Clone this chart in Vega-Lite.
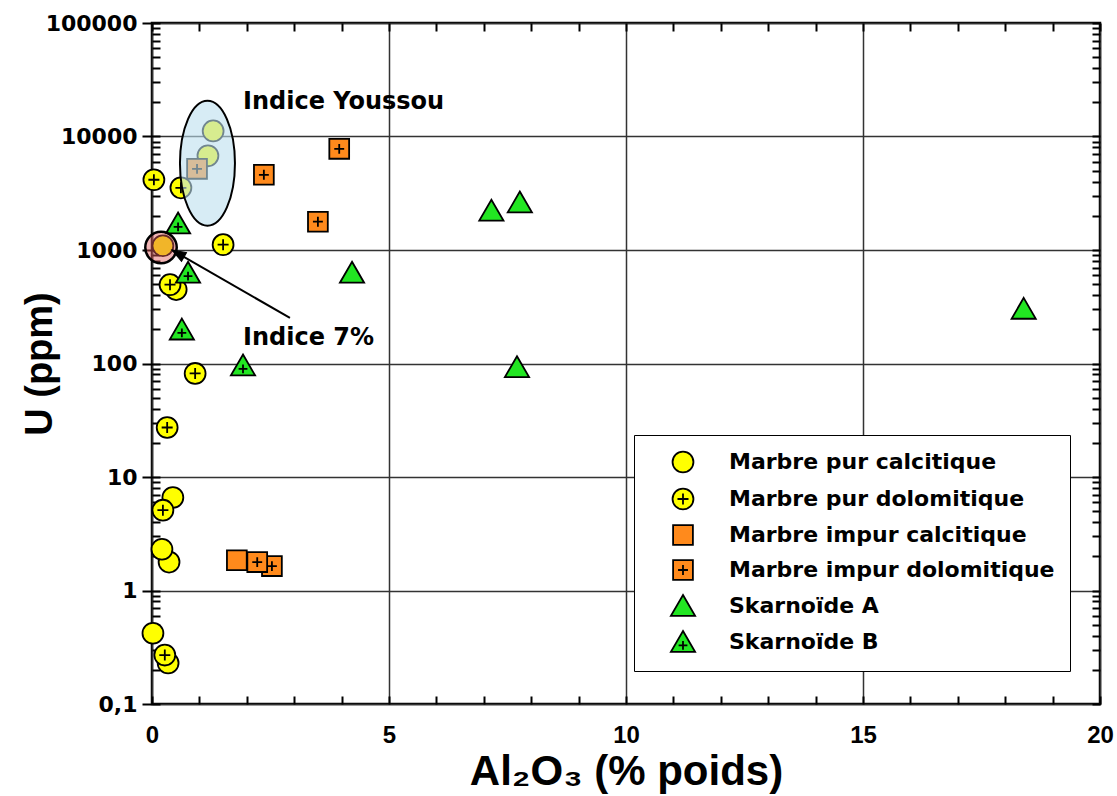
{
  "$schema": "https://vega.github.io/schema/vega-lite/v6.json",
  "width": 948,
  "height": 681,
  "autosize": {"type": "none"},
  "padding": {"left": 152, "top": 23, "right": 17, "bottom": 92},
  "background": "white",
  "config": {
    "view": {"stroke": "black", "strokeWidth": 2.5},
    "axis": {"domain": false, "ticks": true, "tickOpacity": 1, "tickColor": "black", "tickWidth": 2, "labelColor": "black", "titleColor": "black"}
  },
  "datasets": {
    "pts": [
      {"Al2O3": 1.29, "U": 11200, "type": "Marbre pur calcitique"},
      {"Al2O3": 1.18, "U": 6760, "type": "Marbre pur calcitique"},
      {"Al2O3": 0.23, "U": 1090, "type": "Marbre pur calcitique"},
      {"Al2O3": 0.51, "U": 448, "type": "Marbre pur calcitique"},
      {"Al2O3": 0.44, "U": 6.6, "type": "Marbre pur calcitique"},
      {"Al2O3": 0.36, "U": 1.78, "type": "Marbre pur calcitique"},
      {"Al2O3": 0.21, "U": 2.31, "type": "Marbre pur calcitique"},
      {"Al2O3": 0.02, "U": 0.42, "type": "Marbre pur calcitique"},
      {"Al2O3": 0.34, "U": 0.23, "type": "Marbre pur calcitique"},
      {"Al2O3": 0.04, "U": 4160, "type": "Marbre pur dolomitique"},
      {"Al2O3": 0.61, "U": 3530, "type": "Marbre pur dolomitique"},
      {"Al2O3": 1.5, "U": 1115, "type": "Marbre pur dolomitique"},
      {"Al2O3": 0.38, "U": 495, "type": "Marbre pur dolomitique"},
      {"Al2O3": 0.91, "U": 81.7, "type": "Marbre pur dolomitique"},
      {"Al2O3": 0.32, "U": 27.3, "type": "Marbre pur dolomitique"},
      {"Al2O3": 0.23, "U": 5.1, "type": "Marbre pur dolomitique"},
      {"Al2O3": 0.27, "U": 0.27, "type": "Marbre pur dolomitique"},
      {"Al2O3": 1.79, "U": 1.85, "type": "Marbre impur calcitique"},
      {"Al2O3": 0.95, "U": 5190, "type": "Marbre impur dolomitique"},
      {"Al2O3": 2.36, "U": 4600, "type": "Marbre impur dolomitique"},
      {"Al2O3": 3.95, "U": 7780, "type": "Marbre impur dolomitique"},
      {"Al2O3": 3.5, "U": 1775, "type": "Marbre impur dolomitique"},
      {"Al2O3": 2.53, "U": 1.64, "type": "Marbre impur dolomitique"},
      {"Al2O3": 2.22, "U": 1.78, "type": "Marbre impur dolomitique"},
      {"Al2O3": 7.16, "U": 2220, "type": "Skarnoïde A"},
      {"Al2O3": 7.76, "U": 2620, "type": "Skarnoïde A"},
      {"Al2O3": 18.39, "U": 303, "type": "Skarnoïde A"},
      {"Al2O3": 7.7, "U": 92.7, "type": "Skarnoïde A"},
      {"Al2O3": 4.22, "U": 630, "type": "Skarnoïde A"},
      {"Al2O3": 0.55, "U": 1710, "type": "Skarnoïde B"},
      {"Al2O3": 0.76, "U": 630, "type": "Skarnoïde B"},
      {"Al2O3": 0.63, "U": 199, "type": "Skarnoïde B"},
      {"Al2O3": 1.92, "U": 96, "type": "Skarnoïde B"}
    ],
    "ellipse": [{"Al2O3": 1.17, "U": 5810}],
    "circle7": [{"Al2O3": 0.19, "U": 1052}],
    "arrow": [{"Al2O3": 2.91, "U": 252, "Al2O3_end": 0.42, "U_end": 1000}],
    "labels": [
      {"Al2O3": 1.92, "U": 20100, "label": "Indice Youssou"},
      {"Al2O3": 1.92, "U": 168, "label": "Indice 7%"}
    ]
  },
  "layer": [
    {
      "data": {"name": "pts"},
      "mark": {"type": "point", "filled": true, "strokeWidth": 1.8, "size": 484, "opacity": 1, "fillOpacity": 1, "strokeOpacity": 1},
      "encoding": {
        "x": {
          "field": "Al2O3", "type": "quantitative",
          "scale": {"domain": [0, 20], "nice": false, "zero": false},
          "axis": {
            "orient": "bottom",
            "offset": -8,
            "values": [0,1,2,3,4,5,6,7,8,9,10,11,12,13,14,15,16,17,18,19,20],
            "labelExpr": "datum.value % 5 == 0 ? format(datum.value, 'd') : ''",
            "labelFont": "Liberation Sans", "labelFontWeight": "bold", "labelFontSize": 24,
            "labelPadding": 19, "labelOverlap": false, "labelFlush": false,
            "tickSize": 8,
            "grid": true,
            "gridOpacity": {"condition": {"test": "datum.value % 5 == 0", "value": 1}, "value": 0},
            "gridColor": "#333333", "gridWidth": 1.5,
            "title": "Al₂O₃ (% poids)",
            "titleFont": "Liberation Sans", "titleFontWeight": "bold", "titleFontSize": 42, "titlePadding": 4
          }
        },
        "y": {
          "field": "U", "type": "quantitative",
          "scale": {"type": "log", "domain": [0.1, 100000], "nice": false},
          "axis": {
            "orient": "left",
            "offset": -8,
            "values": [0.1,0.2,0.3,0.4,0.5,0.6,0.7,0.8,0.9,1,2,3,4,5,6,7,8,9,10,20,30,40,50,60,70,80,90,100,200,300,400,500,600,700,800,900,1000,2000,3000,4000,5000,6000,7000,8000,9000,10000,20000,30000,40000,50000,60000,70000,80000,90000,100000],
            "labelExpr": "datum.value == 0.1 ? '0,1' : (abs(log(datum.value)/LN10 - round(log(datum.value)/LN10)) < 0.000001 ? format(datum.value, 'd') : '')",
            "labelFont": "DejaVu Sans", "labelFontWeight": "bold", "labelFontSize": 22,
            "labelPadding": 5, "labelOverlap": false, "labelFlush": false,
            "tickSize": {"condition": {"test": "abs(log(datum.value)/LN10 - round(log(datum.value)/LN10)) < 0.000001", "value": 18}, "value": 8},
            "grid": true,
            "gridOpacity": {"condition": {"test": "abs(log(datum.value)/LN10 - round(log(datum.value)/LN10)) < 0.000001", "value": 1}, "value": 0},
            "gridColor": "#333333", "gridWidth": 1.5,
            "title": "U (ppm)",
            "titleFont": "Liberation Sans", "titleFontWeight": "bold", "titleFontSize": 38, "titlePadding": -14
          }
        },
        "shape": {
          "field": "type", "type": "nominal",
          "scale": {
            "domain": ["Marbre pur calcitique", "Marbre pur dolomitique", "Marbre impur calcitique", "Marbre impur dolomitique", "Skarnoïde A", "Skarnoïde B"],
            "range": [
              "M0.95,0 A0.95,0.95 0 1,1 -0.95,0 A0.95,0.95 0 1,1 0.95,0 Z",
              "M0.95,0 A0.95,0.95 0 1,1 -0.95,0 A0.95,0.95 0 1,1 0.95,0 Z M-0.5,0 L0.5,0 M0,-0.5 L0,0.5",
              "M-0.9,-0.9 L0.9,-0.9 L0.9,0.9 L-0.9,0.9 Z",
              "M-0.9,-0.9 L0.9,-0.9 L0.9,0.9 L-0.9,0.9 Z M-0.45,0 L0.45,0 M0,-0.45 L0,0.45",
              "M0,-1 L1.1,0.9 L-1.1,0.9 Z",
              "M0,-1 L1.1,0.9 L-1.1,0.9 Z M-0.4,0.3 L0.4,0.3 M0,-0.1 L0,0.7"
            ]
          },
          "legend": {
            "title": null, "orient": "none", "legendX": 482, "legendY": 412,
            "strokeColor": "black", "fillColor": "white", "padding": 15,
            "symbolSize": 484, "symbolStrokeColor": "black", "symbolStrokeWidth": 1.8,
            "symbolOffset": 22, "labelOffset": 34, "rowPadding": 7,
            "labelFont": "DejaVu Sans", "labelFontWeight": "bold", "labelFontSize": 22, "labelColor": "black", "labelLimit": 500
          }
        },
        "fill": {
          "field": "type", "type": "nominal",
          "scale": {
            "domain": ["Marbre pur calcitique", "Marbre pur dolomitique", "Marbre impur calcitique", "Marbre impur dolomitique", "Skarnoïde A", "Skarnoïde B"],
            "range": ["#ffff00", "#ffff00", "#ff8a1c", "#ff8a1c", "#22e622", "#22e622"]
          },
          "legend": {
            "title": null, "orient": "none", "legendX": 482, "legendY": 412,
            "strokeColor": "black", "fillColor": "white", "padding": 15,
            "symbolSize": 484, "symbolStrokeColor": "black", "symbolStrokeWidth": 1.8,
            "symbolOffset": 22, "labelOffset": 34, "rowPadding": 7,
            "labelFont": "DejaVu Sans", "labelFontWeight": "bold", "labelFontSize": 22, "labelColor": "black", "labelLimit": 500
          }
        },
        "stroke": {
          "field": "type", "type": "nominal",
          "scale": {
            "domain": ["Marbre pur calcitique", "Marbre pur dolomitique", "Marbre impur calcitique", "Marbre impur dolomitique", "Skarnoïde A", "Skarnoïde B"],
            "range": ["#000000", "#000000", "#000000", "#000000", "#000000", "#000000"]
          },
          "legend": {
            "title": null, "orient": "none", "legendX": 482, "legendY": 412,
            "strokeColor": "black", "fillColor": "white", "padding": 15,
            "symbolSize": 484, "symbolStrokeWidth": 1.8,
            "symbolOffset": 22, "labelOffset": 34, "rowPadding": 7,
            "labelFont": "DejaVu Sans", "labelFontWeight": "bold", "labelFontSize": 22, "labelColor": "black", "labelLimit": 500
          }
        }
      }
    },
    {
      "data": {"name": "ellipse"},
      "mark": {"type": "point", "shape": "M0,-1 A0.44,1 0 1,1 0,1 A0.44,1 0 1,1 0,-1 Z", "size": 15625, "filled": true, "fill": "#bde0ee", "fillOpacity": 0.6, "stroke": "black", "strokeWidth": 2, "strokeOpacity": 1, "opacity": 1},
      "encoding": {
        "x": {
          "field": "Al2O3", "type": "quantitative",
          "axis": {"orient": "top", "offset": -8, "values": [0,1,2,3,4,5,6,7,8,9,10,11,12,13,14,15,16,17,18,19,20], "labels": false, "tickSize": 8, "grid": false, "title": null}
        },
        "y": {
          "field": "U", "type": "quantitative",
          "axis": {"orient": "right", "offset": -8, "values": [0.1,0.2,0.3,0.4,0.5,0.6,0.7,0.8,0.9,1,2,3,4,5,6,7,8,9,10,20,30,40,50,60,70,80,90,100,200,300,400,500,600,700,800,900,1000,2000,3000,4000,5000,6000,7000,8000,9000,10000,20000,30000,40000,50000,60000,70000,80000,90000,100000], "labels": false, "tickSize": 8, "grid": false, "title": null}
        }
      }
    },
    {
      "data": {"name": "circle7"},
      "mark": {"type": "point", "shape": "circle", "size": 990, "filled": true, "fill": "#e05a5a", "fillOpacity": 0.45, "stroke": "black", "strokeWidth": 2.5, "strokeOpacity": 1, "opacity": 1},
      "encoding": {
        "x": {"field": "Al2O3", "type": "quantitative", "axis": null},
        "y": {"field": "U", "type": "quantitative", "axis": null}
      }
    },
    {
      "data": {"name": "arrow"},
      "mark": {"type": "rule", "color": "black", "strokeWidth": 2},
      "encoding": {
        "x": {"field": "Al2O3", "type": "quantitative", "axis": null},
        "y": {"field": "U", "type": "quantitative", "axis": null},
        "x2": {"field": "Al2O3_end"},
        "y2": {"field": "U_end"}
      }
    },
    {
      "data": {"name": "arrow"},
      "mark": {"type": "point", "shape": "M0,0 L0.5,1.4 L-0.5,1.4 Z", "size": 400, "angle": 300, "filled": true, "fill": "black", "stroke": "black", "strokeWidth": 1, "opacity": 1},
      "encoding": {
        "x": {"field": "Al2O3_end", "type": "quantitative", "axis": null},
        "y": {"field": "U_end", "type": "quantitative", "axis": null}
      }
    },
    {
      "data": {"name": "labels"},
      "mark": {"type": "text", "align": "left", "baseline": "middle", "font": "DejaVu Sans", "fontWeight": "bold", "fontSize": 24, "color": "black"},
      "encoding": {
        "x": {"field": "Al2O3", "type": "quantitative", "axis": null},
        "y": {"field": "U", "type": "quantitative", "axis": null},
        "text": {"field": "label"}
      }
    }
  ],
  "resolve": {"axis": {"x": "independent", "y": "independent"}}
}
